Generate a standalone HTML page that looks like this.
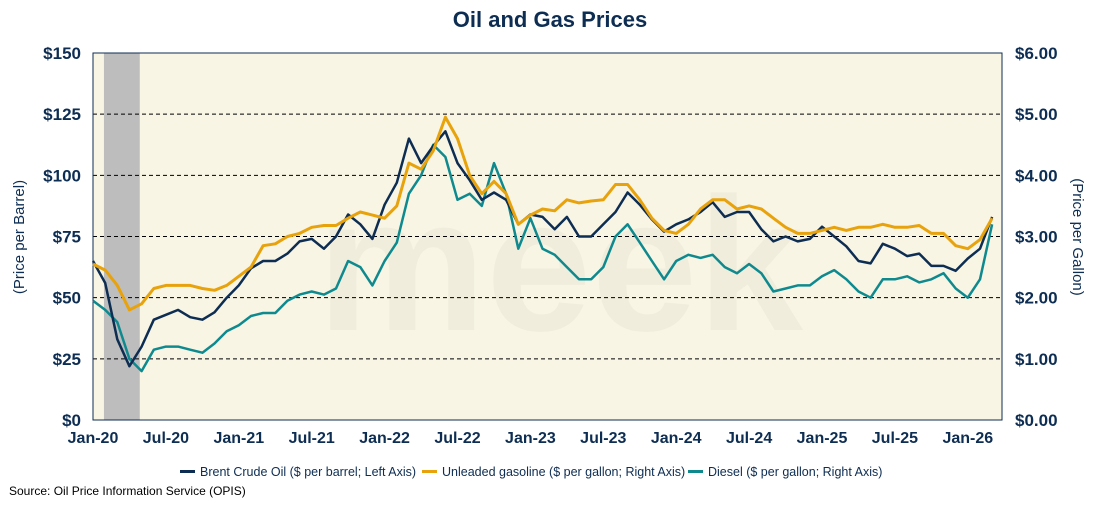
<!DOCTYPE html>
<html><head><meta charset="utf-8"><style>
body{margin:0;background:#fff;width:1100px;height:500px;overflow:hidden;font-family:"Liberation Sans",sans-serif}
svg text{font-family:"Liberation Sans",sans-serif}
</style></head><body>
<svg id="c" width="1100" height="500"></svg>
<script>
const months=[];for(let i=0;i<75;i++)months.push(i);
const brent=[65,56,33,22,30,41,43,45,42,41,44,50,55,62,65,65,68,73,74,70,75,84,80,74,88,97,115,105,112,118,105,98,90,93,90,80,84,83,78,83,75,75,80,85,93,88,82,77,80,82,85,89,83,85,85,78,73,75,73,74,79,75,71,65,64,72,70,67,68,63,63,61,66,70,83];
const gasoline=[2.55,2.45,2.2,1.8,1.9,2.15,2.2,2.2,2.2,2.15,2.12,2.2,2.35,2.5,2.85,2.88,3.0,3.05,3.15,3.18,3.18,3.3,3.4,3.35,3.3,3.5,4.2,4.1,4.4,4.95,4.6,4.0,3.7,3.9,3.7,3.2,3.35,3.45,3.42,3.6,3.55,3.58,3.6,3.85,3.85,3.6,3.3,3.1,3.05,3.2,3.45,3.6,3.6,3.45,3.5,3.45,3.3,3.15,3.05,3.05,3.1,3.15,3.1,3.15,3.15,3.2,3.15,3.15,3.18,3.05,3.05,2.85,2.8,2.95,3.3];
const diesel=[1.95,1.8,1.6,1.0,0.8,1.15,1.2,1.2,1.15,1.1,1.25,1.45,1.55,1.7,1.75,1.75,1.95,2.05,2.1,2.05,2.15,2.6,2.5,2.2,2.6,2.9,3.7,4.0,4.5,4.3,3.6,3.7,3.5,4.2,3.7,2.8,3.3,2.8,2.7,2.5,2.3,2.3,2.5,3.0,3.2,2.9,2.6,2.3,2.6,2.7,2.65,2.7,2.5,2.4,2.55,2.4,2.1,2.15,2.2,2.2,2.35,2.45,2.3,2.1,2.0,2.3,2.3,2.35,2.25,2.3,2.4,2.15,2.0,2.3,3.2];
const leftTicks=[0,25,50,75,100,125,150];
const rightTicks=["$0.00","$1.00","$2.00","$3.00","$4.00","$5.00","$6.00"];
const xLabels=["Jan-20","Jul-20","Jan-21","Jul-21","Jan-22","Jul-22","Jan-23","Jul-23","Jan-24","Jul-24","Jan-25","Jul-25","Jan-26"];
const NS="http://www.w3.org/2000/svg",svg=document.getElementById('c');
const L=93,R=1002,T=53,B=420,X0=93,PY=145.8;
const x=m=>X0+m*PY/12;
const yL=v=>B-(v/150)*(B-T);
const yR=v=>B-(v/6)*(B-T);
function mk(t,a,txt){const e=document.createElementNS(NS,t);for(const k in a)e.setAttribute(k,a[k]);if(txt!=null)e.textContent=txt;svg.appendChild(e);return e;}
let e;
e=mk('rect',{x:L,y:T,width:R-L,height:B-T,fill:'#f8f5e4'});

e=mk('text',{x:560,y:330,'font-size':190,'font-weight':'bold',fill:'#f1eddd','text-anchor':'middle'},'meek');

e=mk('rect',{x:x(0.9),y:T,width:x(3.85)-x(0.9),height:B-T,fill:'#bdbdbd'});

leftTicks.forEach((v,i)=>{
 if(v>0&&v<150){e=mk('line',{x1:L,x2:R,y1:yL(v),y2:yL(v),stroke:'#000','stroke-width':1,'stroke-dasharray':'4,3'});
 }
 e=mk('text',{x:81,y:yL(v)+6,'font-size':17,'font-weight':'bold',fill:'#0d2d52','text-anchor':'end'},'$'+v);
 
 e=mk('text',{x:1015,y:yL(v)+6,'font-size':17,'font-weight':'bold',fill:'#0d2d52'},rightTicks[i]);
 
});
xLabels.forEach((t,i)=>{e=mk('text',{x:x(i*6),y:443,'font-size':16,'font-weight':'bold',fill:'#0d2d52','text-anchor':'middle'},t);
 });
e=mk('rect',{x:L,y:T,width:R-L,height:B-T,fill:'none',stroke:'#0d2d52','stroke-width':1});

function line(arr,fy,col,w,name){const d=arr.map((v,i)=>(i?'L':'M')+x(months[i]).toFixed(1)+','+fy(v).toFixed(1)).join('');
 const p=mk('path',{d:d,fill:'none',stroke:col,'stroke-width':w,'stroke-linejoin':'round'});
 }
line(diesel,yR,'#0e8a8f',2.5,'diesel-line');
line(brent,yL,'#0d2d52',2.5,'brent-line');
line(gasoline,yR,'#e8a20c',3,'gasoline-line');
e=mk('text',{x:550,y:27,'font-size':22,'font-weight':'bold',fill:'#0d2d52','text-anchor':'middle'},'Oil and Gas Prices');

e=mk('text',{x:0,y:0,'font-size':15,fill:'#0d2d52','text-anchor':'middle',transform:'translate(24,237) rotate(-90)'},'(Price per Barrel)');

e=mk('text',{x:0,y:0,'font-size':15,fill:'#0d2d52','text-anchor':'middle',transform:'translate(1073,237) rotate(90)'},'(Price per Gallon)');

const leg=[[180,'#0d2d52','Brent Crude Oil ($ per barrel; Left Axis)'],[422,'#e8a20c','Unleaded gasoline ($ per gallon; Right Axis)'],[688,'#0e8a8f','Diesel ($ per gallon; Right Axis)']];
leg.forEach(l=>{e=mk('rect',{x:l[0],y:470,width:15,height:3,fill:l[1]});
 
 e=mk('text',{x:l[0]+20,y:476,'font-size':12.5,fill:'#0d2d52'},l[2]);
 });
e=mk('text',{x:9,y:495,'font-size':12,fill:'#000'},'Source: Oil Price Information Service (OPIS)');

</script>
</body></html>
